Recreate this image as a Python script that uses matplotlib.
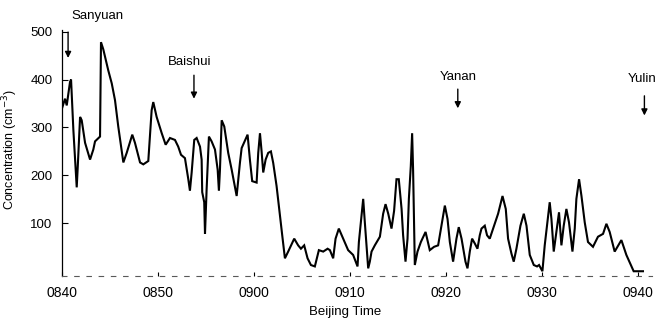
import matplotlib
matplotlib.use("Agg")
import matplotlib.pyplot as plt

# minutes after 08:40 (Beijing Time) and particle concentration (cm^-3)
MINUTES = [
    0.0, 0.31, 0.49, 0.83, 0.94, 1.18, 1.43, 1.53, 1.64, 1.88, 2.05, 2.40, 2.92,
    3.26, 3.44, 3.96, 4.06, 4.30, 4.82, 5.18, 5.52, 5.86, 6.39, 6.74, 7.32, 7.60,
    8.13, 8.47, 8.99, 9.34, 9.51, 9.86, 10.39, 10.80, 11.25, 11.77, 12.11, 12.40,
    12.81, 13.16, 13.33, 13.51, 13.78, 14.03, 14.38, 14.55, 14.61, 14.82, 14.90,
    15.07, 15.31, 15.59, 15.94, 16.22, 16.35, 16.46, 16.64, 16.91, 17.32, 17.68,
    18.20, 18.54, 18.72, 19.34, 19.58, 19.82, 20.28, 20.45, 20.63, 20.80, 20.97,
    21.22, 21.49, 21.77, 22.01, 22.36, 22.71, 22.95, 23.23, 23.57, 24.20, 24.61,
    24.90, 25.24, 25.59, 25.94, 26.35, 26.77, 27.22, 27.68, 27.92, 28.26, 28.51,
    28.85, 29.30, 29.82, 30.34, 30.80, 30.94, 31.22, 31.39, 31.56, 31.91, 32.08,
    32.26, 32.60, 33.13, 33.47, 33.72, 34.00, 34.34, 34.61, 34.86, 35.10, 35.39,
    35.55, 35.80, 36.01, 36.15, 36.35, 36.49, 36.59, 36.77, 37.05, 37.40, 37.89,
    38.33, 38.78, 39.20, 39.61, 39.90, 40.18, 40.42, 40.76, 41.11, 41.35, 41.64,
    42.05, 42.26, 42.50, 42.74, 43.02, 43.30, 43.54, 43.72, 44.06, 44.30, 44.58,
    44.93, 45.45, 45.91, 46.25, 46.49, 46.84, 47.08, 47.36, 47.78, 48.13, 48.41,
    48.75, 49.17, 49.51, 49.72, 50.07, 50.31, 50.55, 50.83, 51.01, 51.25, 51.53,
    51.80, 52.05, 52.29, 52.57, 52.84, 53.20, 53.44, 53.61, 53.89, 54.14, 54.48,
    54.82, 55.34, 55.86, 56.39, 56.74, 57.08, 57.60, 58.30, 58.82, 59.58, 60.55,
]
CONC = [
    340, 360, 346, 395, 400, 295, 212, 175, 219, 322, 315, 268, 233,
    254, 271, 281, 478, 463, 419, 392, 357, 302, 227, 247, 285, 268,
    227, 223, 230, 336, 353, 322, 288, 264, 278, 274, 260, 243,
    236, 192, 168, 206, 274, 278, 260, 233, 165, 144, 78,
    171, 281, 271, 254, 212, 168, 212, 315, 302, 247, 212,
    157, 226, 257, 285, 233, 188, 185, 247, 288, 250, 206,
    233, 247, 250, 226, 178, 116, 75, 27, 41, 68, 54,
    47, 54, 27, 13, 10, 44, 41, 47, 44, 27, 68,
    89, 68, 44, 34, 10, 61, 116, 151, 102, 6, 20,
    41, 54, 72, 120, 140, 120, 89, 126, 192, 192, 130,
    75, 20, 68, 151, 219, 288, 212, 13, 41, 61, 82,
    44, 51, 54, 102, 137, 109, 61, 20, 68, 92, 68,
    20, 6, 41, 68, 58, 47, 75, 89, 95, 75, 68,
    89, 120, 157, 130, 68, 37, 20, 47, 95, 120, 95,
    34, 13, 10, 13, 0, 54, 95, 144, 109, 41, 82,
    123, 54, 95, 130, 102, 41, 89, 151, 192, 157, 102,
    61, 51, 72, 78, 99, 82, 41, 65, 34, 0, 0,
]

X_TICKS = [0, 10, 20, 30, 40, 50, 60]
X_TICK_LABELS = ["0840", "0850", "0900", "0910", "0920", "0930", "0940"]
Y_TICKS = [100, 200, 300, 400, 500]

# station name, label position, arrow tail, arrow head (minutes, conc)
STATIONS = ["Sanyuan", "Baishui", "Yanan", "Yulin"]
LABEL_POS = [(3.65, 533), (13.3, 437), (41.25, 405), (60.5, 401)]
ARROW_FROM = [(0.63, 499), (13.75, 409), (41.25, 380), (60.7, 366)]
ARROW_TO = [(0.63, 445), (13.75, 360), (41.25, 340), (60.7, 325)]

plt.rcParams.update({
    "font.family": ["Liberation Sans", "DejaVu Sans"],
    "text.color": "black",
})

fig = plt.figure(figsize=(6.6, 3.29), dpi=100)
ax = fig.add_axes([0.094, 0.161, 0.894, 0.748])

ax.plot(MINUTES, CONC, color="black", lw=1.5, solid_joinstyle="miter")

ax.set_xlim(0, 61.5)
ax.set_ylim(-10, 503.5)
ax.set_xticks(X_TICKS)
ax.set_xticklabels(X_TICK_LABELS)
ax.set_yticks(Y_TICKS)

for side in ("top", "right"):
    ax.spines[side].set_visible(False)
ax.spines["left"].set_linewidth(0.9)
ax.spines["bottom"].set_linewidth(0.8)
ax.spines["bottom"].set_linestyle((0, (4, 7)))
ax.spines["bottom"].set_color("0.35")

ax.tick_params(axis="y", direction="in", length=4, width=0.8, pad=7, labelsize=9.5)
ax.tick_params(axis="x", direction="in", length=3, width=0.8, pad=7, labelsize=10)

for name, lp, a0, a1 in zip(STATIONS, LABEL_POS, ARROW_FROM, ARROW_TO):
    ax.text(lp[0], lp[1], name, ha="center", va="center", fontsize=9.5, clip_on=False)
    ax.annotate("", xy=a1, xytext=a0, annotation_clip=False,
                arrowprops=dict(arrowstyle="-|>", color="black", lw=1.0,
                                mutation_scale=9, shrinkA=0, shrinkB=0))

fig.text(0.016, 0.545, "Concentration (cm$^{-3}$)", rotation=90,
         ha="center", va="center", fontsize=9)
fig.text(0.523, 0.052, "Beijing Time", ha="center", va="center", fontsize=9.5)

fig.savefig("out.png", dpi=100, facecolor="white")
